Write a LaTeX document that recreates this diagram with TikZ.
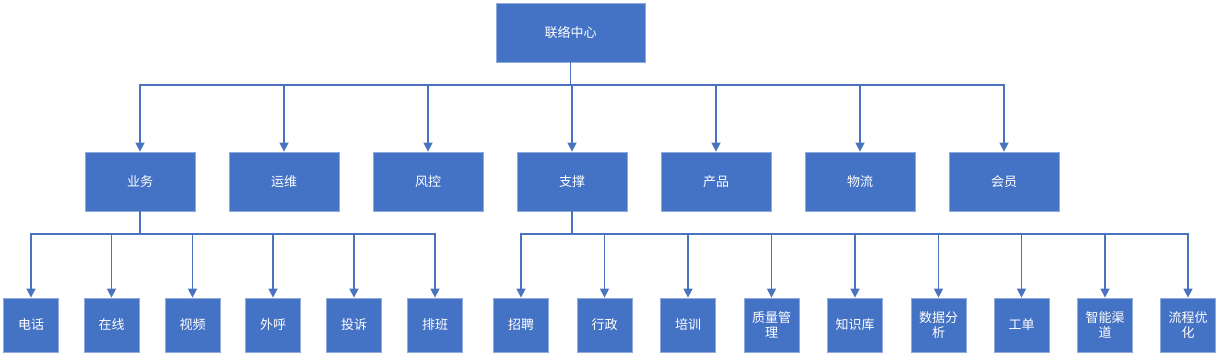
\documentclass[tikz,border=0pt]{standalone}
\usepackage{fontspec}
\setmainfont{Noto Sans CJK SC}
\usetikzlibrary{arrows.meta}
\definecolor{boxblue}{HTML}{4472C4}
\definecolor{boxedge}{HTML}{8FAADC}
\definecolor{linkblue}{HTML}{4A72BE}
\begin{document}
\begin{tikzpicture}[x=1pt,y=-1pt,
  box/.style={draw=boxedge,line width=0.8pt,fill=boxblue,text=white,font=\fontsize{13}{15}\selectfont,align=center,inner sep=0pt},
  bigbox/.style={box,minimum width=110pt,minimum height=59pt},
  smallbox/.style={box,minimum width=55pt,minimum height=54pt},
  link/.style={draw=linkblue,line width=1.5pt},
  arr/.style={link,-{Triangle[width=9pt,length=9pt]}}]
\useasboundingbox (0,0) rectangle (1219,356);
\node[box,minimum width=149pt,minimum height=59pt] (root) at (570.5,32.5) {联络中心};
\foreach \n/\x/\t in {b1/140/业务,b2/284/运维,b3/428/风控,b4/572/支撑,b5/716/产品,b6/860/物流,b7/1004/会员}
  \node[bigbox] (\n) at (\x,181.5) {\t};
\foreach \n/\x/\t in {c1/31/电话,c2/111.5/在线,c3/192.5/视频,c4/273/外呼,c5/354/投诉,c6/435/排班}
  \node[smallbox] (\n) at (\x,325) {\t};
\foreach \n/\x/\t in {d1/521/招聘,d2/604.5/行政,d3/688/培训,d4/771.5/质量管\\理,d5/855/知识库,d6/938.5/数据分\\析,d7/1021.5/工单,d8/1105/智能渠\\道,d9/1188/流程优\\化}
  \node[smallbox] (\n) at (\x,325) {\t};
\coordinate (bus1) at (570.5,85);
\coordinate (bus2) at (140,234);
\coordinate (bus3) at (572,234);
\draw[link] (root.south) -- (bus1);
\foreach \n in {b1,b2,b3,b4,b5,b6,b7}
  \draw[arr] (bus1) -| (\n.north);
\draw[link] (b1.south) -- (bus2);
\foreach \n in {c1,c2,c3,c4,c5,c6}
  \draw[arr] (bus2) -| (\n.north);
\draw[link] (b4.south) -- (bus3);
\foreach \n in {d1,d2,d3,d4,d5,d6,d7,d8,d9}
  \draw[arr] (bus3) -| (\n.north);
\end{tikzpicture}
\end{document}
